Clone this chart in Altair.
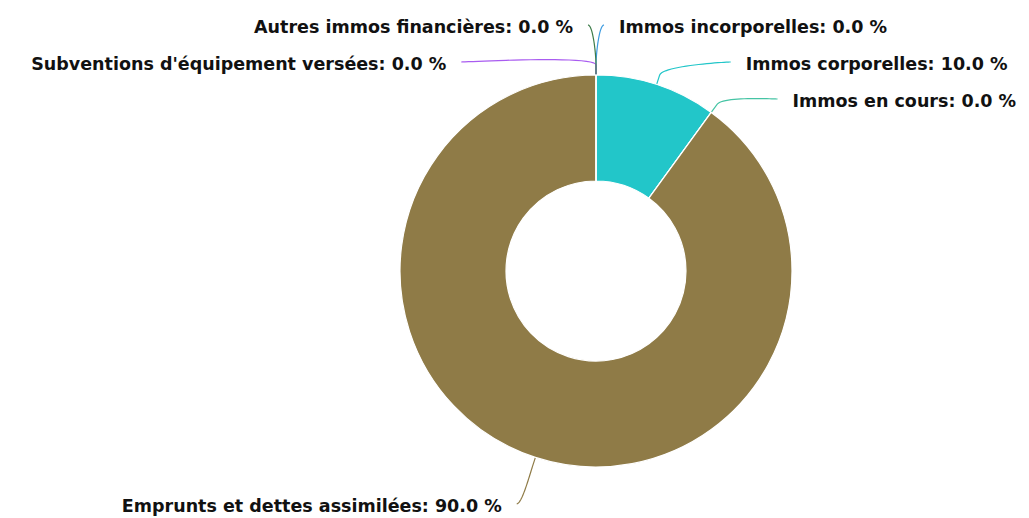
import math
import altair as alt
import pandas as pd

# ---- data ----
names = [
    "Immos incorporelles",
    "Immos corporelles",
    "Immos en cours",
    "Emprunts et dettes assimilées",
    "Subventions d'équipement versées",
    "Autres immos financières",
]
values = [0.0, 10.0, 0.0, 90.0, 0.0, 0.0]
colors = ["#3d9be0", "#22c6c9", "#45c4a4", "#8f7b47", "#a95cf0", "#3e7c4a"]

# ---- layout constants (pixels in chart space) ----
W, H = 1013, 508
CX, CY = 588, 263
R_OUT, R_IN = 196, 90
R_LABEL = 248
R_X = 244
X_PAD = 8
BREAK = 10
GAP = 37
Y_MIN = 20
TEXT_PAD = 15

total = sum(values)
mids = []
acc = 0.0
for v in values:
    a0 = acc / total * 2 * math.pi
    acc += v
    a1 = acc / total * 2 * math.pi
    mids.append((a0 + a1) / 2)

side = ["L" if m > math.pi else "R" for m in mids]
nat_y = [CY - R_LABEL * math.cos(m) for m in mids]

label_y = [0.0] * len(names)
right = sorted([i for i in range(len(names)) if side[i] == "R"], key=lambda i: (mids[i], i))
left = sorted([i for i in range(len(names)) if side[i] == "L"], key=lambda i: (mids[i], i), reverse=True)
for group in (right, left):
    prev = None
    for i in group:
        y = max(nat_y[i], Y_MIN)
        if prev is not None:
            y = max(y, prev + GAP)
        label_y[i] = y
        prev = y

rows_text, rows_line = [], []
for i, n in enumerate(names):
    sgn = 1 if side[i] == "R" else -1
    yc = label_y[i] - 3
    dy = (label_y[i] - 2.5) - CY
    xoff = math.sqrt(max(R_X ** 2 - dy ** 2, 0)) + X_PAD
    xc = CX + sgn * xoff
    rows_text.append({"name": n, "side": side[i], "x": xc + sgn * TEXT_PAD, "y": label_y[i],
                      "label": f"{n}: {values[i]:.1f} %"})
    s, c = math.sin(mids[i]), math.cos(mids[i])
    tx, ty = CX + R_OUT * s, CY - R_OUT * c
    bx, by = CX + (R_OUT + BREAK) * s, CY - (R_OUT + BREAK) * c
    p0 = (xc, yc)
    p1 = (xc - sgn * 5, yc)
    p2 = (2 * bx - tx, 2 * by - ty)
    p3 = (bx, by)
    N = 24
    for k in range(N + 1):
        t = k / N
        mt = 1 - t
        x = mt ** 3 * p0[0] + 3 * mt * mt * t * p1[0] + 3 * mt * t * t * p2[0] + t ** 3 * p3[0]
        y = mt ** 3 * p0[1] + 3 * mt * mt * t * p1[1] + 3 * mt * t * t * p2[1] + t ** 3 * p3[1]
        rows_line.append({"name": n, "step": k, "x": x, "y": y})
    rows_line.append({"name": n, "step": N + 1, "x": tx, "y": ty})

df_arc = pd.DataFrame({"name": names, "value": values, "idx": list(range(len(names)))})
df_text = pd.DataFrame(rows_text)
df_line = pd.DataFrame(rows_line)

xs = alt.Scale(domain=[0, W], nice=False, zero=False)
ys = alt.Scale(domain=[H, 0], nice=False, zero=False)
cs = alt.Scale(domain=names, range=colors)

arc = alt.Chart(df_arc).mark_arc(
    innerRadius=R_IN, outerRadius=R_OUT, stroke="white", strokeWidth=1.2
).encode(
    theta=alt.Theta("value:Q", stack=True),
    order=alt.Order("idx:Q"),
    color=alt.Color("name:N", scale=cs, legend=None),
    x=alt.datum(CX, scale=xs, axis=None),
    y=alt.datum(CY, scale=ys, axis=None),
)

lines = alt.Chart(df_line).mark_line(strokeWidth=1.2).encode(
    x=alt.X("x:Q", scale=xs, axis=None),
    y=alt.Y("y:Q", scale=ys, axis=None),
    detail="name:N",
    order="step:Q",
    color=alt.Color("name:N", scale=cs, legend=None),
)

def text_layer(sd, align):
    return alt.Chart(df_text).transform_filter(alt.datum.side == sd).mark_text(
        align=align, baseline="middle", font="DejaVu Sans", fontWeight="bold",
        fontSize=17.5, color="#111111"
    ).encode(
        x=alt.X("x:Q", scale=xs, axis=None),
        y=alt.Y("y:Q", scale=ys, axis=None),
        text="label:N",
    )

chart = alt.layer(lines, arc, text_layer("R", "left"), text_layer("L", "right")).properties(
    width=W, height=H, padding=0,
    autosize=alt.AutoSizeParams(type="none"),
    background="white",
).configure_view(stroke=None)

chart.save("out.html", embed_options={"renderer": "svg", "actions": False})
